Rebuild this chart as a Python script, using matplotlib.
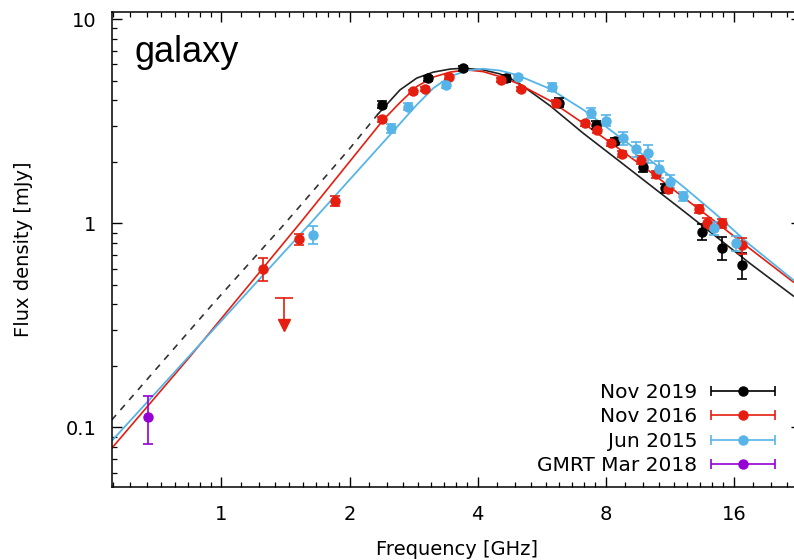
import numpy as np
import matplotlib
matplotlib.use('Agg')
from matplotlib import pyplot as plt
from matplotlib.ticker import FixedLocator, NullFormatter, LogLocator
from matplotlib.container import ErrorbarContainer
from matplotlib.legend_handler import HandlerErrorbar

# colours (gnuplot defaults)
c_black = '#000000'
c_red = '#e51e10'
c_blue = '#56b4e9'
c_purple = '#9400d3'

# --- measured points, frequency [GHz], flux [mJy], error [mJy]
nov19_f = [2.38, 3.06, 3.70, 4.66, 6.20, 7.60, 8.41, 9.77, 11.02, 13.44, 15.03, 16.69]
nov19_s = [3.80, 5.14, 5.75, 5.14, 3.90, 3.03, 2.53, 1.88, 1.48, 0.91, 0.76, 0.625]
nov19_e = [0.15, 0.15, 0.15, 0.20, 0.20, 0.15, 0.10, 0.10, 0.08, 0.085, 0.10, 0.09]

nov16_f = [1.254, 1.52, 1.848, 2.38, 2.82, 3.01, 3.43, 4.53, 5.05, 6.10, 7.13, 7.63,
           8.23, 8.72, 9.66, 10.5, 11.2, 13.25, 13.8, 15.03, 16.74]
nov16_s = [0.597, 0.835, 1.286, 3.23, 4.42, 4.54, 5.20, 5.04, 4.54, 3.87, 3.09, 2.87,
           2.48, 2.19, 2.04, 1.74, 1.47, 1.175, 1.00, 1.00, 0.78]
nov16_e = [0.075, 0.05, 0.07, 0.10, 0.10, 0.10, 0.10, 0.10, 0.10, 0.15, 0.08, 0.10,
           0.08, 0.07, 0.10, 0.07, 0.06, 0.05, 0.06, 0.05, 0.07]

jun15_f = [1.644, 2.50, 2.75, 3.37, 4.98, 5.97, 7.37, 8.00, 8.77, 9.42, 10.04, 10.67,
           11.32, 12.17, 14.39, 16.16]
jun15_s = [0.877, 2.92, 3.73, 4.76, 5.20, 4.67, 3.48, 3.18, 2.61, 2.31, 2.20, 1.84,
           1.60, 1.36, 0.945, 0.80]
jun15_e = [0.09, 0.15, 0.15, 0.15, 0.12, 0.20, 0.20, 0.20, 0.20, 0.20, 0.22, 0.18,
           0.12, 0.07, 0.07, 0.07]

gmrt_f = [0.673]
gmrt_s = [0.1127]
gmrt_e = [0.03]

# Nov 2016 upper limit
ul_f = 1.405
ul_top = 0.432
ul_base = 0.336
ul_tip = 0.318

# --- fitted spectra
fit19_dash_f = [0.552, 0.957, 1.393, 2.004, 2.33]
fit19_dash_s = [0.1086, 0.405, 0.970, 2.33, 3.42]
fit19_f = [2.33, 2.627, 2.875, 3.146, 3.443, 3.70, 4.12, 4.51, 4.94, 5.92, 7.08,
           8.49, 10.16, 12.17, 14.58, 17.46, 22.07]
fit19_s = [3.42, 4.50, 5.14, 5.50, 5.69, 5.75, 5.64, 5.39, 4.94, 3.76, 2.76,
           2.06, 1.54, 1.15, 0.855, 0.635, 0.44]

fit16_f = [0.552, 0.843, 1.529, 2.40, 2.627, 2.875, 3.146, 3.443, 3.77, 4.12, 4.51,
           4.94, 5.92, 7.08, 8.49, 10.16, 12.17, 14.58, 17.46, 22.07]
fit16_s = [0.0789, 0.222, 1.00, 3.21, 3.90, 4.67, 5.20, 5.50, 5.64, 5.53, 5.23,
           4.86, 3.98, 3.09, 2.36, 1.79, 1.34, 1.005, 0.75, 0.515]

fit15_f = [0.552, 1.644, 2.488, 2.875, 3.146, 3.443, 3.77, 4.12, 4.51,
           4.94, 5.92, 7.08, 8.49, 10.16, 12.17, 14.58, 17.46, 22.07]
fit15_s = [0.0857, 1.037, 2.71, 3.80, 4.59, 5.23, 5.60, 5.71, 5.60,
           5.33, 4.55, 3.60, 2.71, 2.04, 1.51, 1.098, 0.783, 0.527]

x_ticks = [1, 2, 4, 8, 16]
x_ticklabels = ['1', '2', '4', '8', '16']
y_ticks = [0.1, 1, 10]
y_ticklabels = ['0.1', '1', '10']

fig = plt.figure(figsize=(7.94, 5.60), dpi=100)
ax = fig.add_axes([112/794, 73.3/560, 689/794, 474.4/560])
ax.set_xscale('log', base=2)
ax.set_yscale('log')
ax.set_xlim(0.553, 23.0)
ax.set_ylim(0.0512, 10.8)

# fit curves
ax.plot(fit19_dash_f, fit19_dash_s, color='#333333', lw=1.2, dashes=(4, 4), zorder=2)
ax.plot(fit19_f, fit19_s, color='#222222', lw=1.2, zorder=2)
ax.plot(fit16_f, fit16_s, color=c_red, lw=1.2, zorder=2)
ax.plot(fit15_f, fit15_s, color=c_blue, lw=1.3, zorder=2)

eb = dict(fmt='o', ms=6.5, capsize=3.5, elinewidth=1.2, capthick=1.2, zorder=3)
ax.errorbar(nov19_f, nov19_s, yerr=nov19_e, color=c_black, **eb)
ax.errorbar(nov16_f, nov16_s, yerr=nov16_e, color=c_red, **eb)
ax.errorbar(jun15_f, jun15_s, yerr=jun15_e, color=c_blue, **eb)
ax.errorbar(gmrt_f, gmrt_s, yerr=gmrt_e, color=c_purple, **eb)

# upper limit arrow
ax.plot([ul_f, ul_f], [ul_top, ul_base], color=c_red, lw=1.2, zorder=3)
ax.plot([ul_f], [ul_top], marker='_', ms=13, mew=1.2, color=c_red, zorder=3)
ax.plot([ul_f], [ul_tip], marker='v', ms=9, color=c_red, zorder=3)

# legend proxies (horizontal bars like gnuplot keys)
labels = ['Nov 2019', 'Nov 2016', 'Jun 2015', 'GMRT Mar 2018']
cols = [c_black, c_red, c_blue, c_purple]
handles = []
for lab, col in zip(labels, cols):
    h = ax.errorbar([np.nan], [np.nan], xerr=[1.0], fmt='o', ms=6.5, capsize=3.5,
                    elinewidth=1.2, capthick=1.2, color=col, label=lab)
    handles.append(h)
ax.legend(handles=handles, loc='lower right', bbox_to_anchor=(0.962, 0.024),
          frameon=False, markerfirst=False, borderpad=0, borderaxespad=0,
          handlelength=3.15, handletextpad=0.7, labelspacing=0.27, fontsize=14.5,
          handler_map={ErrorbarContainer: HandlerErrorbar(xerr_size=1.575, numpoints=1)})

# ticks
ax.xaxis.set_major_locator(FixedLocator(x_ticks))
ax.set_xticklabels(x_ticklabels)
minor_x = [b * (1 + k / 9) for b in [0.5, 1, 2, 4, 8, 16] for k in range(1, 9)]
ax.xaxis.set_minor_locator(FixedLocator(minor_x))
ax.xaxis.set_minor_formatter(NullFormatter())
ax.yaxis.set_major_locator(FixedLocator(y_ticks))
ax.set_yticklabels(y_ticklabels)
ax.yaxis.set_minor_locator(LogLocator(base=10, subs=np.arange(2, 10)))
ax.yaxis.set_minor_formatter(NullFormatter())

ax.tick_params(which='both', direction='in', top=True, right=True, colors='black')
ax.tick_params(which='major', length=7, width=1.0, labelsize=14, pad=11)
ax.tick_params(which='minor', length=3.5, width=0.9)
ax.tick_params(axis='x', which='major', pad=13)
for s in ax.spines.values():
    s.set_linewidth(1.1)

ax.set_xlabel('Frequency [GHz]', fontsize=14, labelpad=12)
ax.set_ylabel('Flux density [mJy]', fontsize=14, labelpad=24)

ax.text(0.033, 0.895, 'galaxy', transform=ax.transAxes, fontsize=26,
        family='Liberation Sans', va='baseline', ha='left')

fig.savefig('out.png', dpi=100)
